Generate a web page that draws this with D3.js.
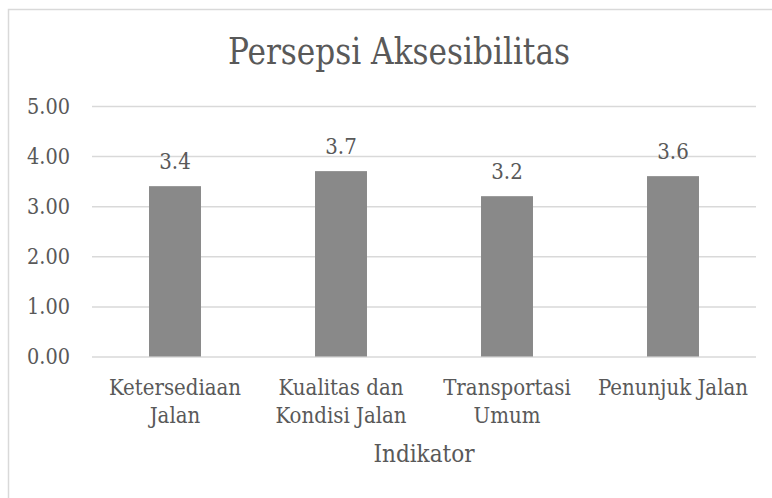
<!DOCTYPE html>
<html>
<head>
<meta charset="utf-8">
<script src="https://cdn.jsdelivr.net/npm/d3@7"></script>
<style>
  html, body { margin: 0; padding: 0; background: #fff; }
  svg text { font-family: "DejaVu Serif", serif; font-stretch: condensed; fill: #595959; }
</style>
</head>
<body>
<svg id="chart" width="772" height="498"></svg>
<script>
const title = "Persepsi Aksesibilitas";
const xTitle = "Indikator";
const categories = ["Ketersediaan Jalan", "Kualitas dan Kondisi Jalan", "Transportasi Umum", "Penunjuk Jalan"];
const categoryLines = [["Ketersediaan", "Jalan"], ["Kualitas dan", "Kondisi Jalan"], ["Transportasi", "Umum"], ["Penunjuk Jalan"]];
const values = [3.4, 3.7, 3.2, 3.6];
const valueLabels = ["3.4", "3.7", "3.2", "3.6"];
const yTicks = [0, 1, 2, 3, 4, 5];

const svg = d3.select("#chart");
const W = 772, H = 498;
const plot = { left: 92, right: 756, top: 106, bottom: 356.5 };

// outer border
svg.append("rect").attr("x", 8.5).attr("y", 9.5).attr("width", W + 20).attr("height", H + 20)
  .attr("fill", "#fff").attr("stroke", "#d9d9d9").attr("stroke-width", 1.5);

const x = d3.scaleBand().domain(categories).range([plot.left, plot.right])
  .paddingInner(0.687).paddingOuter(0.3435);
const y = d3.scaleLinear().domain([0, 5]).range([plot.bottom, plot.top]);

// gridlines + y tick labels
const yAxis = d3.axisLeft(y).tickValues(yTicks).tickFormat(d3.format(".2f"))
  .tickSize(-(plot.right - plot.left)).tickPadding(22);
const gy = svg.append("g").attr("transform", `translate(${plot.left},0)`).call(yAxis);
gy.select(".domain").remove();
gy.selectAll(".tick line").attr("stroke", "#d9d9d9").attr("stroke-width", 1.5);
gy.selectAll(".tick text").attr("font-size", 22).attr("fill", "#595959")
  .attr("font-family", "DejaVu Serif, serif").attr("textLength", 43).attr("lengthAdjust", "spacingAndGlyphs")
  .attr("dy", "0.32em");

// bars
svg.append("g").selectAll("rect").data(values).join("rect")
  .attr("x", (d, i) => x(categories[i]))
  .attr("y", d => y(d))
  .attr("width", x.bandwidth())
  .attr("height", d => y(0) - y(d))
  .attr("fill", "#898989");

// value labels
svg.append("g").selectAll("text").data(values).join("text")
  .attr("x", (d, i) => x(categories[i]) + x.bandwidth() / 2)
  .attr("y", d => y(d) - 17)
  .attr("text-anchor", "middle")
  .attr("font-size", 22)
  .text((d, i) => valueLabels[i]);

// category labels
const cat = svg.append("g").selectAll("text").data(categoryLines).join("text")
  .attr("text-anchor", "middle")
  .attr("font-size", 22);
cat.each(function(lines, i) {
  const t = d3.select(this);
  const cx = x(categories[i]) + x.bandwidth() / 2;
  lines.forEach((ln, j) => {
    t.append("tspan").attr("x", cx).attr("y", 395 + j * 28).text(ln);
  });
});

// x axis title
svg.append("text").attr("x", (plot.left + plot.right) / 2).attr("y", 462)
  .attr("text-anchor", "middle").attr("font-size", 24).text(xTitle);

// chart title
svg.append("text").attr("x", 399).attr("y", 64)
  .attr("text-anchor", "middle").attr("font-size", 37)
  .attr("textLength", 342).attr("lengthAdjust", "spacingAndGlyphs")
  .text(title);
</script>
</body>
</html>
